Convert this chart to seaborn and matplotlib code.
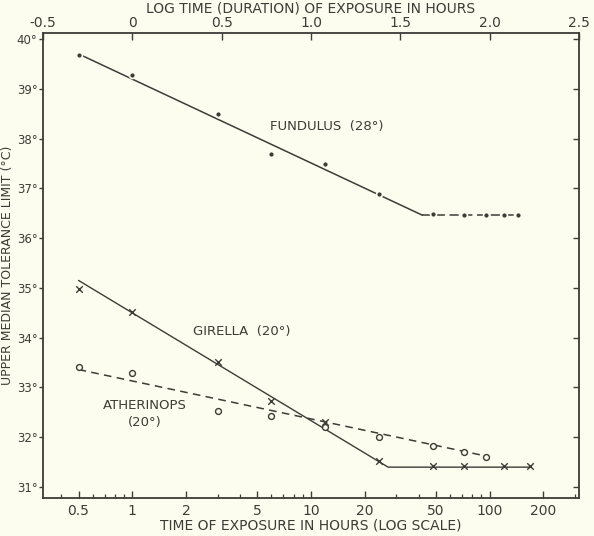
import numpy as np
import pandas as pd
import matplotlib
matplotlib.use("Agg")
import matplotlib.pyplot as plt
from matplotlib.ticker import FixedLocator, NullFormatter, FixedFormatter
import seaborn as sns

# ---------------- data ----------------
fundulus_hours = [0.5, 1, 3, 6, 12, 24, 48, 72, 96, 120, 144]
fundulus_temp = [39.68, 39.28, 38.49, 37.69, 37.48, 36.88, 36.48, 36.46, 36.46, 36.46, 36.46]
fundulus_fit_hours = [0.5, 42]
fundulus_fit_temp = [39.70, 36.46]
fundulus_flat_hours = [42, 144]
fundulus_flat_temp = [36.46, 36.46]

girella_hours = [0.5, 1, 3, 6, 12, 24, 48, 72, 120, 168]
girella_temp = [34.97, 34.51, 33.52, 32.72, 32.31, 31.52, 31.42, 31.42, 31.42, 31.42]
girella_fit_hours = [0.5, 27, 168]
girella_fit_temp = [35.15, 31.40, 31.40]

atherinops_hours = [0.5, 1, 3, 6, 12, 24, 48, 72, 96]
atherinops_temp = [33.42, 33.30, 32.52, 32.42, 32.20, 32.00, 31.82, 31.70, 31.60]
atherinops_fit_hours = [0.5, 96]
atherinops_fit_temp = [33.36, 31.62]

bottom_ticks = [0.5, 1, 2, 5, 10, 20, 50, 100, 200]
bottom_labels = ["0.5", "1", "2", "5", "10", "20", "50", "100", "200"]
top_ticks = [-0.5, 0, 0.5, 1.0, 1.5, 2.0, 2.5]
top_labels = ["-0.5", "0", "0.5", "1.0", "1.5", "2.0", "2.5"]
y_ticks = [31, 32, 33, 34, 35, 36, 37, 38, 39, 40]
y_labels = [f"{t}°" for t in y_ticks]

# ---------------- style ----------------
sns.set_style("ticks")
plt.rcParams["font.family"] = ["DejaVu Sans"]
plt.rcParams["axes.unicode_minus"] = False
bg = "#fdfdef"
ink = "#3c3c38"

fig = plt.figure(figsize=(5.94, 5.36), dpi=100, facecolor=bg)
ax = fig.add_axes([43 / 594, 1 - 498 / 536, (579 - 43) / 594, (498 - 33) / 536])
ax.set_facecolor(bg)

# lines
sns.lineplot(x=fundulus_fit_hours, y=fundulus_fit_temp, ax=ax, color=ink, lw=1.1)
sns.lineplot(x=fundulus_flat_hours, y=fundulus_flat_temp, ax=ax, color=ink, lw=1.1,
             linestyle=(0, (6, 3)))
sns.lineplot(x=girella_fit_hours, y=girella_fit_temp, ax=ax, color=ink, lw=1.0)
sns.lineplot(x=atherinops_fit_hours, y=atherinops_fit_temp, ax=ax, color=ink, lw=1.1,
             linestyle=(0, (5, 3.5)))

# points
sns.scatterplot(x=fundulus_hours, y=fundulus_temp, ax=ax, color=ink, marker="o", s=18,
                edgecolor=bg, linewidth=1.2, zorder=5)
sns.scatterplot(x=girella_hours, y=girella_temp, ax=ax, color=ink, marker="x", s=22,
                linewidth=1.0, zorder=5)
sns.scatterplot(x=atherinops_hours, y=atherinops_temp, ax=ax, marker="o", s=18,
                facecolor=bg, edgecolor=ink, linewidth=1.0, zorder=5)

# axes
ax.set_xscale("log")
ax.set_xlim(10 ** -0.5, 10 ** 2.5)
ax.set_ylim(30.78, 40.12)

ax.xaxis.set_major_locator(FixedLocator(bottom_ticks))
ax.xaxis.set_major_formatter(FixedFormatter(bottom_labels))
minor = [m * 10.0 ** e for e in range(-1, 3) for m in range(1, 10)]
minor = [v for v in minor if 10 ** -0.5 <= v <= 10 ** 2.5 and v not in bottom_ticks]
ax.xaxis.set_minor_locator(FixedLocator(minor))
ax.xaxis.set_minor_formatter(NullFormatter())
ax.tick_params(axis="x", which="major", direction="in", length=5, width=1.0,
               colors=ink, labelsize=10, pad=4)
ax.tick_params(axis="x", which="minor", direction="in", length=3, width=0.9, colors=ink)

ax.set_yticks(y_ticks)
ax.set_yticklabels(y_labels)
ax.tick_params(axis="y", which="major", direction="out", length=3, width=1.0,
               colors=ink, labelsize=8.5, pad=1)

for s in ax.spines.values():
    s.set_visible(True)
    s.set_color(ink)
    s.set_linewidth(1.3)

ax.set_xlabel("TIME OF EXPOSURE IN HOURS (LOG SCALE)", fontsize=10, color=ink, labelpad=1)
ax.set_ylabel("UPPER MEDIAN TOLERANCE LIMIT (°C)", fontsize=9, color=ink, va="center")
ax.yaxis.set_label_coords(-35 / 536, 0.5)

# right ticks (inward)
secy = ax.secondary_yaxis("right")
secy.set_yticks(y_ticks)
secy.tick_params(direction="in", length=4, width=1.0, colors=ink, labelright=False)
secy.spines["right"].set_visible(False)

# top log-time axis (linear in log10 hours)
top = ax.twiny()
top.set_xlim(-0.5, 2.5)
top.set_xticks(top_ticks)
top.set_xticklabels(top_labels)
top.tick_params(axis="x", direction="in", length=5, width=1.0, colors=ink, labelsize=10, pad=2)
for s in top.spines.values():
    s.set_visible(False)
top.set_xlabel("LOG TIME (DURATION) OF EXPOSURE IN HOURS", fontsize=10, color=ink, labelpad=3)

# annotations
ax.text(5.9, 38.25, "FUNDULUS  (28°)", fontsize=9.5, color=ink, ha="left", va="center")
ax.text(4.1, 34.12, "GIRELLA  (20°)", fontsize=9.5, color=ink, ha="center", va="center")
ax.text(1.17, 32.64, "ATHERINOPS", fontsize=9.5, color=ink, ha="center", va="center")
ax.text(1.17, 32.29, "(20°)", fontsize=9.5, color=ink, ha="center", va="center")

fig.savefig("out.png", dpi=100, facecolor=bg)
